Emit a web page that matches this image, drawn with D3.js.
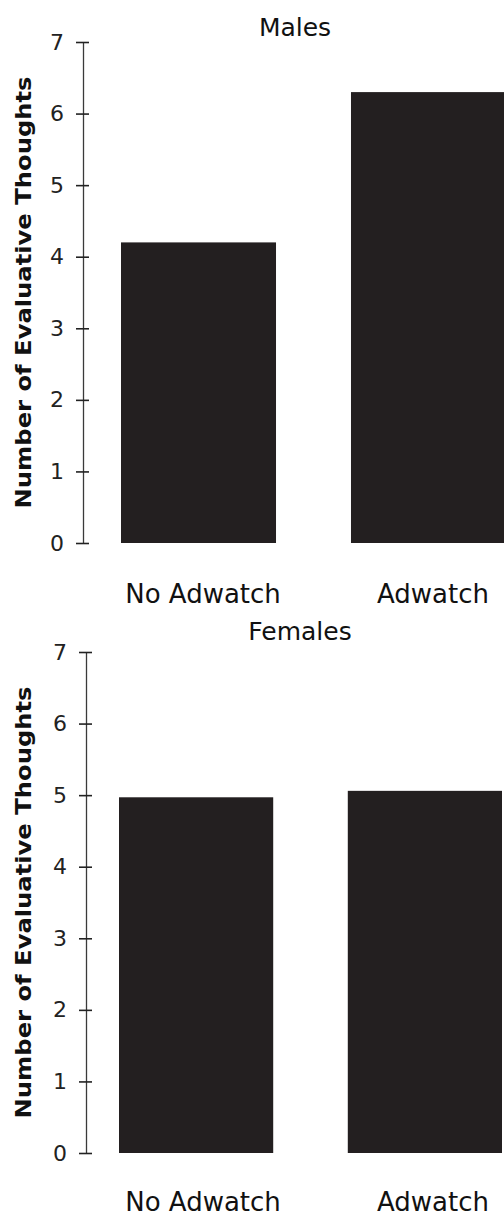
<!DOCTYPE html>
<html>
<head>
<meta charset="utf-8">
<script src="https://cdn.jsdelivr.net/npm/d3@7"></script>
<style>
  html, body { margin: 0; padding: 0; background: #fff; }
  svg { display: block; }
</style>
</head>
<body>
<script>
// ---- data ----
const categories = ["No Adwatch", "Adwatch"];
const malesValues = [4.2, 6.3];
const femalesValues = [4.97, 5.06];
const yTicks = [0, 1, 2, 3, 4, 5, 6, 7];
const panelTitles = ["Males", "Females"];
const yAxisTitle = "Number of Evaluative Thoughts";

// ---- layout ----
const W = 504, H = 1218;
const panels = [
  { title: panelTitles[0], values: malesValues, axisX: 83, yTop: 42, yBottom: 543,
    barStart: 121, barEnd: 506, titleX: 295, titleY: 36, labelY: 603 },
  { title: panelTitles[1], values: femalesValues, axisX: 86, yTop: 652, yBottom: 1153,
    barStart: 119, barEnd: 502, titleX: 300, titleY: 640, labelY: 1211 }
];
const labelCenters = [203, 433];
const barColor = "#231f20";
const font = "'DejaVu Sans', sans-serif";

const svg = d3.select("body").append("svg").attr("width", W).attr("height", H);

panels.forEach(p => {
  const g = svg.append("g");
  const y = d3.scaleLinear().domain([0, 7]).range([p.yBottom, p.yTop]);
  const x = d3.scaleBand().domain(categories).range([p.barStart, p.barEnd])
    .paddingInner(0.326).paddingOuter(0);

  // bars
  g.selectAll("rect.bar").data(categories).enter().append("rect")
    .attr("class", "bar")
    .attr("x", d => x(d))
    .attr("width", x.bandwidth())
    .attr("y", (d, i) => y(p.values[i]))
    .attr("height", (d, i) => y(0) - y(p.values[i]))
    .attr("fill", barColor);

  // axis (left ticks + labels)
  const axL = g.append("g").attr("transform", `translate(${p.axisX},0)`)
    .call(d3.axisLeft(y).tickValues(yTicks).tickSize(7).tickSizeOuter(0).tickPadding(12)
      .tickFormat(d3.format("d")));
  axL.select(".domain").attr("stroke", "#3a3a3a").attr("stroke-width", 1.3);
  axL.selectAll(".tick line").attr("stroke", "#222").attr("stroke-width", 1.6);
  axL.selectAll(".tick text").attr("font-family", font).attr("font-size", 22)
    .attr("fill", "#222");

  // right-side tick marks
  const axR = g.append("g").attr("transform", `translate(${p.axisX},0)`)
    .call(d3.axisRight(y).tickValues(yTicks).tickSize(6).tickSizeOuter(0).tickFormat(""));
  axR.select(".domain").remove();
  axR.selectAll(".tick line").attr("stroke", "#222").attr("stroke-width", 1.6);

  // panel title
  g.append("text")
    .attr("x", p.titleX).attr("y", p.titleY)
    .attr("text-anchor", "middle")
    .attr("font-family", font).attr("font-size", 25).attr("fill", "#111")
    .text(p.title);

  // category labels
  g.selectAll("text.cat").data(categories).enter().append("text")
    .attr("class", "cat")
    .attr("x", (d, i) => labelCenters[i])
    .attr("y", p.labelY)
    .attr("text-anchor", "middle")
    .attr("font-family", font).attr("font-size", 26).attr("fill", "#111")
    .text(d => d);

  // y-axis title
  const cy = (p.yTop + p.yBottom) / 2;
  g.append("text")
    .attr("transform", `translate(31,${cy}) rotate(-90)`)
    .attr("text-anchor", "middle")
    .attr("font-family", font)
    .attr("font-weight", "bold")
    .attr("font-size", 22)
    .attr("textLength", 432)
    .attr("lengthAdjust", "spacingAndGlyphs")
    .attr("fill", "#111")
    .text(yAxisTitle);
});
</script>
</body>
</html>
